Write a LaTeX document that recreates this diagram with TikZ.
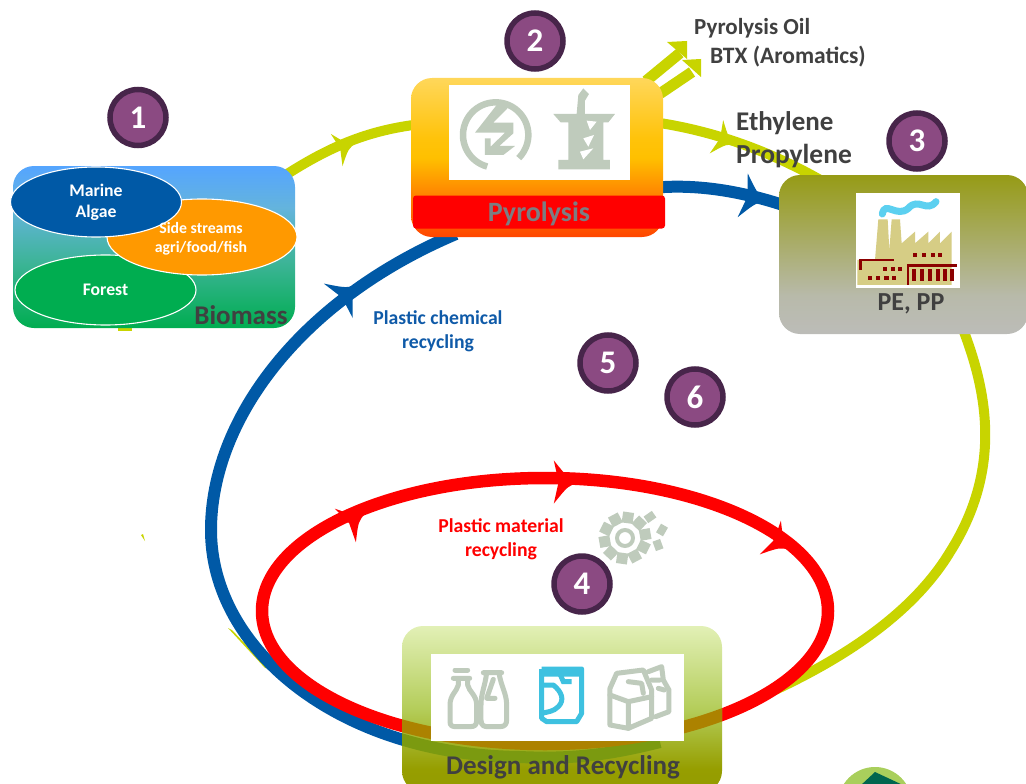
\documentclass[tikz,border=0pt]{standalone}
\usepackage{fontspec}
\setmainfont{Carlito}
\usetikzlibrary{calc,shapes.geometric}
\pgfdeclarelayer{back}
\pgfsetlayers{back,main}
\definecolor{lime}{HTML}{C8D400}
\definecolor{blueline}{HTML}{0059A6}
\definecolor{redline}{HTML}{FF0000}
\definecolor{numfill}{HTML}{8B4A82}
\definecolor{numedge}{HTML}{47254A}
\definecolor{icon}{HTML}{BFCBBC}
\definecolor{txt}{HTML}{404040}
\definecolor{tan}{HTML}{D6CD85}
\definecolor{brick}{HTML}{8B0000}
\definecolor{bioA}{HTML}{00AD50}
\definecolor{bioB}{HTML}{3CB496}
\definecolor{bioC}{HTML}{64B4DC}
\definecolor{bioD}{HTML}{55A5FF}
\definecolor{pyA}{HTML}{FF4600}
\definecolor{pyB}{HTML}{FF8200}
\definecolor{pyC}{HTML}{FFC000}
\definecolor{pyD}{HTML}{FFC30A}
\definecolor{pyE}{HTML}{FFD75A}
\definecolor{peA}{HTML}{BCBCB8}
\definecolor{peB}{HTML}{B8BAAA}
\definecolor{peC}{HTML}{969B16}
\definecolor{deA}{HTML}{949B00}
\definecolor{deB}{HTML}{969E00}
\definecolor{deC}{HTML}{B4CD5A}
\definecolor{deD}{HTML}{E2F0B6}
\definecolor{throughblue}{HTML}{7B9A10}
\definecolor{throughred}{HTML}{AC8200}
\definecolor{pyrotext}{HTML}{7D7D82}
\definecolor{chemtext}{HTML}{0F5AA8}
\definecolor{jar}{HTML}{3EC1E0}
\definecolor{smoke}{HTML}{5CD0F0}
\definecolor{badge}{HTML}{A9CF5C}
\definecolor{badgedark}{HTML}{00664F}
\definecolor{sidefill}{HTML}{FF9900}
\pgfdeclareverticalshading{bioS}{100bp}{color(0bp)=(bioA); color(25bp)=(bioA); color(45bp)=(bioB); color(62bp)=(bioC); color(75bp)=(bioD); color(100bp)=(bioD)}
\pgfdeclareverticalshading{pyroS}{100bp}{color(0bp)=(pyA); color(25bp)=(pyA); color(38bp)=(pyB); color(50bp)=(pyC); color(56bp)=(pyD); color(75bp)=(pyE); color(100bp)=(pyE)}
\pgfdeclareverticalshading{peS}{100bp}{color(0bp)=(peA); color(25bp)=(peA); color(37bp)=(peB); color(75bp)=(peC); color(100bp)=(peC)}
\pgfdeclareverticalshading{desS}{100bp}{color(0bp)=(deA); color(25bp)=(deA); color(32bp)=(deB); color(50bp)=(deC); color(75bp)=(deD); color(100bp)=(deD)}
\tikzset{
 box/.style={rectangle,rounded corners=21pt,inner sep=0pt,outer sep=0pt},
 whitepanel/.style={rectangle,fill=white,inner sep=0pt,outer sep=0pt},
 num/.style={circle,fill=numfill,draw=numedge,line width=5.5pt,minimum size=56pt,inner sep=0pt,text=white,font=\fontsize{33}{33}\selectfont\bfseries},
 patch/.style={ellipse,draw=white,line width=1.1pt,inner sep=0pt,text=white,align=center,font=\fontsize{17.7}{21}\selectfont\bfseries},
 label/.style={inner sep=0pt,text=txt,font=\bfseries},
 limeline/.style={draw=lime,line width=10pt},
 blueflow/.style={draw=blueline,line width=12pt},
 redflow/.style={draw=redline,line width=12.5pt},
 iconline/.style={draw=icon,line width=4.5pt,line join=round,line cap=round},
}
\newcommand{\flowhead}[4]{\fill[#3,shift={(#1)},rotate=#2,scale=#4] (16,0) .. controls (6,3) .. (-6,18) -- (-2,0) -- (-6,-18) .. controls (6,-3) .. cycle;}
\newcommand{\dgt}[1]{\raisebox{-1.5pt}{#1}}
\begin{document}
\begin{tikzpicture}[x=1pt,y=-1pt]
\useasboundingbox (0,0) rectangle (1026,784);
% ---------- nodes
\node[box,shading=bioS,minimum width=282pt,minimum height=162pt] (bio) at (154,247) {};
\node[box,shading=pyroS,minimum width=252pt,minimum height=159pt] (pyro) at (537,157.5) {};
\node[box,shading=peS,minimum width=249pt,minimum height=159pt] (pe) at (903.5,254.5) {};
\node[box,shading=desS,minimum width=320pt,minimum height=166pt] (design) at (562,709) {};
% ---------- connectors (behind the boxes)
\begin{pgfonlayer}{back}
\coordinate (redc) at (545,611);
\coordinate (oil) at (680,53);
\coordinate (btx) at (692,72);
\draw[limeline] ($(bio.north east)+(-20,16)$) .. controls (330,145) and (370,130) .. ($(pyro.north west)+(10,46)$);
\draw[limeline] ($(pyro.north east)+(-10,44)$) .. controls (710,130) and (770,150) .. ($(pe.north west)+(50,10)$);
\draw[limeline] ($(pe.south west)+(182,-10)$) .. controls (985,385) and (1005,465) .. (950,552) .. controls (915,610) and (850,655) .. ($(design.east)+(53,-19)$);
\draw[limeline,line width=11pt] ($(pyro.north east)+(-17,3)$) -- (oil);
\draw[limeline,line width=11pt] ($(pyro.north east)+(-8,19)$) -- (btx);
\fill[lime] (667,42) -- (687,41) -- (687,59) -- cycle;
\fill[lime] (682,60) -- (701,59) -- (701,77) -- cycle;
\flowhead{342,148}{20}{lime}{0.95}
\flowhead{722,139}{-22}{lime}{1}
\fill[lime] (118,328) rectangle (132,331);
\fill[lime] (141,535) -- (143,534) -- (145,541) -- cycle;
\fill[lime] (228,628) -- (232,630) -- (268,668) -- (265,668) -- cycle;
\draw[blueflow] ($(pyro.south west)+(45,-3)$) .. controls (300,300) and (211,420) .. (211,530) .. controls (211,650) and (340,755) .. ($(design.south)+(-42,-35)$);
\draw[blueflow] ($(pyro.east)+(-6,30)$) .. controls (700,184) and (745,192) .. ($(pe.north west)+(10,32)$);
\flowhead{750,197}{-13}{blueline}{1.25}
\flowhead{344,296}{40}{blueline}{1.25}
\draw[redflow] (redc) ellipse [x radius=283,y radius=133];
\flowhead{561,482}{0}{redline}{1.2}
\flowhead{351,522}{32}{redline}{1.1}
\flowhead{776,541}{-32}{redline}{1.1}
\end{pgfonlayer}
% ---------- curves seen through the translucent design box
\begin{scope}
\clip[rounded corners=21pt] (design.north west) rectangle (design.south east);
\draw[line width=12pt,color=throughblue] (211,530) .. controls (211,650) and (340,755) .. ($(design.south)+(-42,-35)$) .. controls (580,760) and (620,752) .. (660,742);
\draw[line width=12.5pt,color=throughred] (redc) ellipse [x radius=283,y radius=133];
\end{scope}
% ---------- biomass
\node[patch,fill=bioA,minimum width=181pt,minimum height=70pt] (forest) at (105.5,290) {\raisebox{-1pt}{Forest}};
\node[patch,fill=sidefill,minimum width=190pt,minimum height=76pt] (side) at (202,237) {};
\node[patch,fill=blueline,minimum width=171pt,minimum height=70pt] (algae) at (96,202) {\raisebox{-1.5pt}{Marine}\\\raisebox{-1.5pt}{Algae}};
\node[text=white,align=center,inner sep=0pt,font=\fontsize{15.8}{19}\selectfont\bfseries] (sidetxt) at (201,239) {Side streams\\agri/food/fish};
\node[label,font=\fontsize{27}{27}\selectfont\bfseries] (biotxt) at (241,315.5) {Biomass};
% ---------- pyrolysis
\node[whitepanel,minimum width=181pt,minimum height=94pt] (pyropanel) at (539.5,132.5) {};
\node[rectangle,rounded corners=3pt,fill=red,minimum width=252pt,minimum height=33pt,inner sep=0pt] (pyrobar) at (539,212) {};
\node[inner sep=0pt,text=pyrotext,font=\fontsize{28}{28}\selectfont\bfseries] (pyrotxt) at (539,214) {Pyrolysis};
% pyrolysis pictogram
\begin{scope}[shift={(440,80)},x=0.3333pt,y=-0.3333pt]
\draw[icon,line width=6.5pt] (167,165) ++(105:98) arc[start angle=105,end angle=405,radius=98] ;
\fill[icon] (170,75) -- (215,72) -- (160,128) -- (220,128) -- (220,160) -- (178,198) -- (225,198) -- (190,225) -- (135,225) -- (135,175) -- (152,175) -- (152,200) -- (195,158) -- (105,158) -- cycle;
\fill[icon] (340,102) -- (525,102) -- (505,127) -- (490,127) -- (490,240) -- (510,240) -- (510,268) -- (355,268) -- (355,240) -- (385,240) -- (385,127) -- (362,127) -- cycle;
\fill[icon] (415,45) -- (430,25) -- (447,42) -- (435,62) -- (435,102) -- (410,102) -- cycle;
\fill[white] (440,122) -- (470,125) -- (450,150) -- cycle;
\fill[white] (430,175) -- (462,165) -- (445,200) -- cycle;
\fill[white] (420,215) -- (460,205) -- (430,238) -- cycle;
\end{scope}
% ---------- PE, PP
\node[whitepanel,minimum width=104pt,minimum height=95pt] (pepanel) at (908,240.5) {};
\node[label,font=\fontsize{26}{26}\selectfont\bfseries] (petxt) at (911,304) {PE, PP};
\begin{scope}[shift={(850,190)},x=0.3333pt,y=-0.3333pt]
\fill[tan] (75,210) -- (85,88) -- (113,88) -- (118,180) -- (125,88) -- (150,88) -- (155,160) -- (195,125) -- (195,160) -- (235,125) -- (235,160) -- (270,125) -- (270,160) -- (305,125) -- (305,285) -- (22,285) -- (22,210) -- cycle;
\draw[line width=7pt,color=smoke,line cap=round] (97,72) .. controls (105,30) and (140,85) .. (175,55) .. controls (205,20) and (230,70) .. (258,35);
\fill[brick] (27,207) rectangle (132,214);
\fill[brick] (27,207) rectangle (36,240);
\fill[brick] (170,222) rectangle (322,231);
\fill[brick] (170,222) rectangle (178,285);
\foreach \xx in {187,210,233,257,279,300}{\fill[brick] (\xx,238) rectangle ++(12,35);}
\foreach \xx in {188,215,242,265}{\fill[brick] (\xx,188) rectangle ++(12,12);}
\foreach \xx in {53,78,103,125}{\fill[brick] (\xx,258) rectangle ++(13,13);}
\foreach \xx in {100,122,145}{\fill[brick] (\xx,232) rectangle ++(12,12);}
\end{scope}
% ---------- design and recycling
\node[whitepanel,minimum width=253pt,minimum height=87pt] (despanel) at (557.5,697.5) {};
\node[label,font=\fontsize{27}{27}\selectfont\bfseries] (destxt) at (563,767) {Design and Recycling};
\begin{scope}[shift={(425,650)},x=0.3333pt,y=-0.3333pt]
\draw[iconline,line width=5pt] (90,60) -- (128,60);
\draw[iconline,line width=5pt] (85,85) -- (134,85) (100,85) -- (100,105) .. controls (95,125) and (75,135) .. (75,165) -- (75,215) .. controls (75,228) and (82,230) .. (95,230) -- (135,230) .. controls (150,230) and (155,225) .. (155,210) -- (155,165) .. controls (155,135) and (132,125) .. (128,105) -- (128,85);
\draw[iconline,line width=5pt] (175,68) -- (230,68) (185,68) .. controls (180,110) and (168,130) .. (168,165) -- (168,210) .. controls (168,228) and (178,230) .. (190,230) -- (225,230) .. controls (240,230) and (245,222) .. (245,210) -- (245,165) .. controls (245,130) and (228,110) .. (222,68);
\draw[iconline,line width=5pt] (205,88) -- (185,145) -- (210,145);
\begin{scope}[color=jar]
\draw[line width=5pt,line join=round] (350,57) -- (470,57) -- (470,70) (350,57) -- (350,72) -- (470,72) -- (470,190) -- (455,215) -- (365,215) -- (350,205) -- (350,72);
\draw[line width=5pt,line join=round] (350,105) -- (385,105) .. controls (410,125) and (420,150) .. (400,170) .. controls (385,185) and (370,185) .. (350,190);
\draw[line width=5pt] (405,72) -- (415,95) -- (440,95);
\end{scope}
\draw[iconline,line width=5pt] (555,115) -- (575,70) -- (655,60) -- (680,120) -- (680,205) -- (610,235) -- (555,225) -- cycle;
\draw[iconline,line width=5pt] (555,135) -- (610,155) -- (610,235) (610,155) -- (680,140);
\draw[iconline,line width=5pt] (610,95) -- (650,100) -- (655,130);
\draw[iconline,line width=5pt] (670,65) -- (710,50) -- (715,90) -- (732,120) -- (732,185) -- (692,200);
\draw[iconline,line width=5pt] (680,90) -- (705,90) (700,115) -- (718,120);
\end{scope}
% ---------- gear
\coordinate (gear) at (625,538);
\draw[icon,line width=4pt] (gear) circle (8);
\foreach \a in {10,46,82,118,154,190,226,262,298,334}{\fill[icon,shift={(gear)},rotate=\a] (15,-5.5) rectangle (26,5.5);}
\fill[icon,shift={(650,517)},rotate=35] (-5,-4) rectangle (5,4);
\fill[icon,shift={(662,530)},rotate=60] (-5,-4) rectangle (5,4);
\fill[icon,shift={(658,545)},rotate=110] (-5,-4) rectangle (5,4);
% ---------- text labels
\node[label,font=\fontsize{23}{23}\selectfont\bfseries,anchor=west] (oiltxt) at (694,28) {Pyrolysis Oil};
\node[label,font=\fontsize{23.5}{23}\selectfont\bfseries,anchor=west] (btxtxt) at (710,56.5) {BTX (Aromatics)};
\node[label,font=\fontsize{27}{27}\selectfont\bfseries,anchor=west] (eth) at (736,123.5) {Ethylene};
\node[label,font=\fontsize{27.5}{27}\selectfont\bfseries,anchor=west] (prop) at (736,156) {Propylene};
\node[inner sep=0pt,align=center,text=chemtext,font=\fontsize{19.7}{24}\selectfont\bfseries] (chem) at (438,331.5) {Plastic chemical\\recycling};
\node[inner sep=0pt,align=center,text=red,font=\fontsize{19.7}{24}\selectfont\bfseries] (mat) at (501,539) {Plastic material\\recycling};
% ---------- numbers
\node[num] (n1) at (138,117.5) {\dgt{1}};
\node[num] (n2) at (535,41) {\dgt{2}};
\node[num] (n3) at (917,141) {\dgt{3}};
\node[num] (n4) at (582,584) {\dgt{4}};
\node[num] (n5) at (608,363) {\dgt{5}};
\node[num] (n6) at (695,397) {\dgt{6}};
% ---------- partial badge at the lower edge
\begin{scope}
\clip (0,0) rectangle (1026,784);
\fill[color=badge] (875,804) circle (37);
\fill[color=badgedark] (860,786) -- (875,772) -- (905,786) -- cycle;
\end{scope}
\end{tikzpicture}
\end{document}
